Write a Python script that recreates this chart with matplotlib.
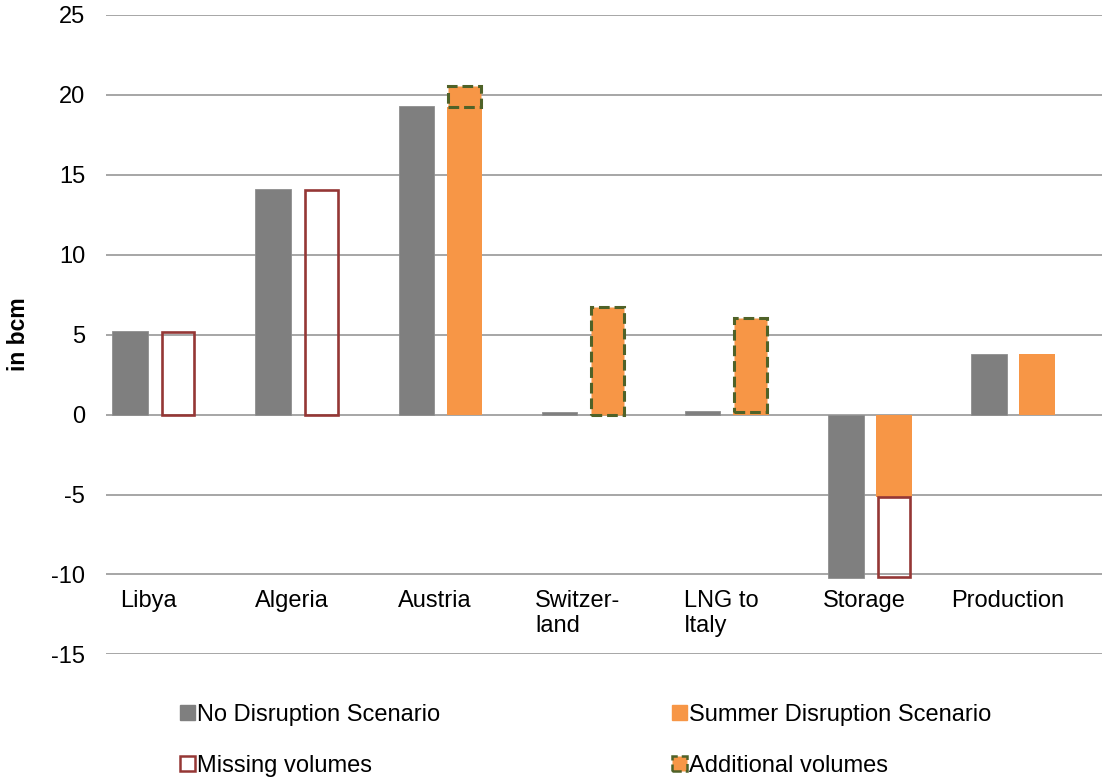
import matplotlib.pyplot as plt
from matplotlib.patches import Patch
import numpy as np

plt.rcParams["font.family"] = ["Liberation Sans", "DejaVu Sans"]
plt.rcParams["axes.unicode_minus"] = False

categories = ["Libya", "Algeria", "Austria", "Switzer-\nland", "LNG to\nItaly", "Storage", "Production"]
no_disruption = [5.2, 14.1, 19.3, 0.15, 0.2, -10.2, 3.8]
summer = [0, 0, 19.2, 0, 0.15, -5.15, 3.8]
missing = [5.15, 14.05, 0, 0, 0, -5.0, 0]
additional = [0, 0, 1.35, 6.75, 5.9, 0, 0]

gray = "#7f7f7f"
orange = "#f79646"
red = "#953735"
green = "#4f6228"

fig = plt.figure(figsize=(11.03, 7.78), dpi=100)
ax = fig.add_axes([0.0961, 0.1588, 0.9029, 0.8223])

x = np.arange(len(categories))
w = 0.248
off = 0.168


def bars(vals, bottom=None, **kw):
    # skip zero-height bars so their edges aren't drawn
    vals = np.asarray(vals, dtype=float)
    base = np.zeros_like(vals) if bottom is None else np.asarray(bottom, dtype=float)
    m = vals != 0
    ax.bar(x[m] + kw.pop("dx"), vals[m], kw.pop("width"), bottom=base[m], **kw)


bars(no_disruption, dx=-off, width=w, color=gray, edgecolor="#8f8f8f", linewidth=0.6, zorder=3)
bars(summer, dx=off, width=w, color=orange, linewidth=0, zorder=3)
bars(missing, summer, dx=off, width=w - 0.02, facecolor="none", edgecolor=red,
     linewidth=1.9, zorder=4)
bars(additional, summer, dx=off, width=w - 0.02, facecolor=orange, edgecolor=green,
     linewidth=2.2, linestyle=(0, (3.5, 1.6)), zorder=4)

ax.set_xlim(-0.335, 6.62)
ax.set_ylim(-15, 25)
ax.set_yticks(range(-15, 26, 5))
ax.set_xticks([])
ax.grid(axis="y", color="#a6a6a6", linewidth=1.4, zorder=0)
for s in ax.spines.values():
    s.set_visible(False)
ax.tick_params(axis="y", length=0, pad=15, labelsize=17)

for i, lab in enumerate(categories):
    ax.text(i - 0.04, -10.94, lab, ha="center", va="top", multialignment="left", fontsize=17)

fig.text(0.0165, 0.5706, "in bcm", rotation=90, ha="center", va="center",
         fontsize=16.5, fontweight="bold")

handles = [
    Patch(facecolor=gray, edgecolor=gray),
    Patch(facecolor="white", edgecolor=red, linewidth=1.8),
    Patch(facecolor=orange, edgecolor=orange),
    Patch(facecolor=orange, edgecolor=green, linewidth=1.8, linestyle="--"),
]
labels = ["No Disruption Scenario", "Missing volumes", "Summer Disruption Scenario", "Additional volumes"]
fig.legend(handles, labels, ncol=2, loc="upper left", bbox_to_anchor=(180 / 1103, 1 - 704 / 778),
           frameon=False, fontsize=17, handlelength=0.62, handleheight=0.62, handletextpad=0.12,
           columnspacing=9.8, labelspacing=1.22, borderpad=0, borderaxespad=0)

fig.savefig("out.png", dpi=100)
